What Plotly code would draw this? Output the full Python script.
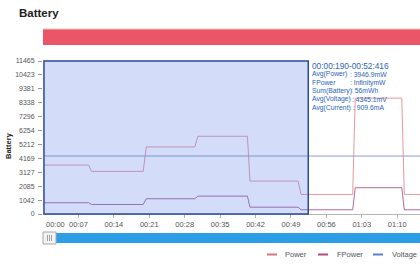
import plotly.graph_objects as go

# Sampled battery channels (seconds, mW / mV)
t_sec = [0.19, 9.0, 9.6, 19.8, 20.4, 30.0, 30.6, 40.4, 40.9, 50.4, 51.0, 61.2, 61.7, 70.9, 71.4, 76.0]
power_mw = [3669, 3669, 3195, 3195, 5022, 5022, 5826, 5826, 2466, 2466, 1466, 1466, 8683, 8683, 1466, 1466]
fpower_mw = [842, 842, 714, 714, 1142, 1142, 1340, 1340, 511, 511, 316, 316, 1970, 1970, 316, 316]
voltage_mv = [4345, 4345, 4345, 4345, 4345, 4345, 4345, 4345, 4345, 4345, 4345, 4345, 4345, 4345, 4345, 4345]

y_ticks = [0, 1042, 2085, 3127, 4169, 5212, 6254, 7296, 8338, 9381, 10423, 11465]
y_tick_labels = ["0", "1042", "2085", "3127", "4169", "5212", "6254", "7296", "8338", "9381", "10423", "11465"]
x_ticks = [7, 14, 21, 28, 35, 42, 49, 56, 63, 70]
x_tick_labels = ["00:07", "00:14", "00:21", "00:28", "00:35", "00:42", "00:49", "00:56", "01:03", "01:10"]

sel_start, sel_end = 0.19, 52.416
sel_range_label = "00:00:190-00:52:416"
sel_stats = [
    ("Avg(Power)", ": 3946.9mW"),
    ("FPower", ": InfinitymW"),
    ("Sum(Battery)", ": 56mWh"),
    ("Avg(Voltage)", ": 4345.1mV"),
    ("Avg(Current)", ": 909.6mA"),
]

W, H = 420, 264
ML, MR, MT, MB = 43, 0, 61, 50
PW, PH = W - ML - MR, H - MT - MB


def px(x):
    return (x - ML) / PW


def py(y):
    return (H - MB - y) / PH


FONT = "Liberation Sans, Arial, sans-serif"
C_POWER = "#e39aa2"
C_FPOWER = "#b06a9a"
C_VOLT = "#8f9dc6"
C_TEXT = "#2a66b8"

fig = go.Figure()
fig.add_trace(go.Scatter(x=t_sec, y=power_mw, name="Power", mode="lines",
                         line=dict(color=C_POWER, width=1)))
fig.add_trace(go.Scatter(x=t_sec, y=fpower_mw, name="FPower", mode="lines",
                         line=dict(color=C_FPOWER, width=1)))
fig.add_trace(go.Scatter(x=t_sec, y=voltage_mv, name="Voltage", mode="lines",
                         line=dict(color=C_VOLT, width=1)))

shapes = []
# selected time window, tinted over the curves
shapes.append(dict(type="rect", xref="x", yref="paper", x0=sel_start, x1=sel_end, y0=0, y1=1,
                   fillcolor="rgba(92,130,235,0.27)", line=dict(color="#2b4a9a", width=1.5), layer="above"))
# header band
shapes.append(dict(type="rect", xref="paper", yref="paper", x0=0, x1=1.01, y0=py(45), y1=py(29),
                   fillcolor="#ea5568", line=dict(width=0), layer="above"))
shapes.append(dict(type="line", xref="paper", yref="paper", x0=0, x1=1.01, y0=py(29), y1=py(29),
                   line=dict(color="#e9c9b8", width=1)))
# zoom slider
shapes.append(dict(type="rect", xref="paper", yref="paper", x0=px(44), x1=1.01, y0=py(243), y1=py(233),
                   fillcolor="#2b9ee6", line=dict(width=0)))
shapes.append(dict(type="rect", xref="paper", yref="paper", x0=px(43), x1=px(56), y0=py(244), y1=py(232),
                   fillcolor="#f2f2f2", line=dict(color="#a8a8a8", width=1)))
for gx in (47.5, 49.5, 51.5):
    shapes.append(dict(type="line", xref="paper", yref="paper", x0=px(gx), x1=px(gx), y0=py(241), y1=py(235),
                       line=dict(color="#8a8a8a", width=0.8)))
# legend
legend_items = [("Power", "#d9727a", 267, 283), ("FPower", "#b84a7c", 318, 335), ("Voltage", "#5b7fd0", 373, 390)]
annotations = []
for name, col, mx, tx in legend_items:
    shapes.append(dict(type="line", xref="paper", yref="paper", x0=px(mx), x1=px(mx + 10),
                       y0=py(254.5), y1=py(254.5), line=dict(color=col, width=2)))
    annotations.append(dict(xref="paper", yref="paper", x=px(tx), y=py(254.5), text=name, showarrow=False,
                            xanchor="left", yanchor="middle", font=dict(family=FONT, size=7.5, color="#555")))

# titles
annotations.append(dict(xref="paper", yref="paper", x=px(17), y=py(13), text="<b>Battery</b>", showarrow=False,
                        xanchor="left", yanchor="middle", font=dict(family=FONT, size=11.5, color="#222")))
annotations.append(dict(xref="paper", yref="paper", x=px(8), y=py(146), text="<b>Battery</b>", showarrow=False,
                        textangle=-90, xanchor="center", yanchor="middle",
                        font=dict(family=FONT, size=7.5, color="#222")))
# first time label sits inside the axis start
annotations.append(dict(xref="x", yref="paper", x=0, y=py(224), text="00:00", showarrow=False,
                        xanchor="left", yanchor="middle", xshift=1,
                        font=dict(family=FONT, size=7.5, color="#555")))

# selection summary
annotations.append(dict(xref="paper", yref="paper", x=px(310), y=py(65.7),
                        text=sel_range_label, showarrow=False, xanchor="left", yanchor="middle",
                        font=dict(family=FONT, size=8.3, color=C_TEXT)))
value_x = [348, 348, 349, 350, 351]
for i, (lab, val) in enumerate(sel_stats):
    yy = 74.3 + i * 8.3
    annotations.append(dict(xref="paper", yref="paper", x=px(310), y=py(yy), text=lab, showarrow=False,
                            xanchor="left", yanchor="middle", font=dict(family=FONT, size=6.8, color=C_TEXT)))
    annotations.append(dict(xref="paper", yref="paper", x=px(value_x[i]), y=py(yy), text=val, showarrow=False,
                            xanchor="left", yanchor="middle", font=dict(family=FONT, size=6.8, color=C_TEXT)))

fig.update_layout(
    width=W, height=H,
    margin=dict(l=ML, r=MR, t=MT, b=MB, pad=0),
    paper_bgcolor="white", plot_bgcolor="white",
    showlegend=False,
    shapes=shapes,
    annotations=annotations,
    font=dict(family=FONT),
)
fig.update_xaxes(
    range=[0, 74.5], tickmode="array", tickvals=x_ticks, ticktext=x_tick_labels,
    showgrid=False, zeroline=False, showline=True, linecolor="#b5b5b5", linewidth=1,
    ticks="outside", ticklen=3, tickcolor="#b5b5b5",
    tickfont=dict(family=FONT, size=7.5, color="#555"),
)
fig.update_yaxes(
    range=[0, 11465], tickmode="array", tickvals=y_ticks, ticktext=y_tick_labels,
    showgrid=False, zeroline=False, showline=False,
    ticks="outside", ticklen=4, tickcolor="#999", ticklabelstandoff=2,
    tickfont=dict(family=FONT, size=7, color="#555"),
)

fig.write_html("out.html")
